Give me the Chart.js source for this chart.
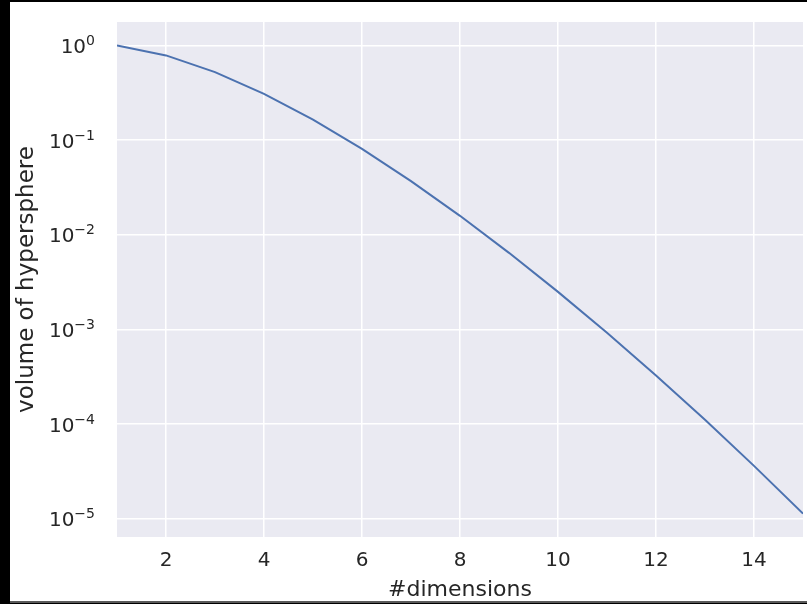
<!DOCTYPE html>
<html>
<head>
<meta charset="utf-8">
<script src="https://cdn.jsdelivr.net/npm/chart.js@4"></script>
<style>
  html, body { margin: 0; padding: 0; background: #000; width: 807px; height: 604px; overflow: hidden; }
  #wrap { position: absolute; left: 10px; top: 2px; width: 797px; height: 599px; background: #fff; border-bottom: 2px solid #5a5a5a; }
</style>
</head>
<body>
<div id="wrap"><canvas id="hyper"></canvas></div>
<script>
// dimensions and volume of the hypersphere inscribed in the unit cube
const dims = [1, 2, 3, 4, 5, 6, 7, 8, 9, 10, 11, 12, 13, 14, 15];
const volumes = [1.0, 0.7854, 0.5236, 0.3084, 0.1645, 0.0807, 0.0369, 0.01585, 0.00644, 0.00249,
  0.000921, 0.000326, 0.000111, 0.0000361, 0.0000113];
const xTicks = [2, 4, 6, 8, 10, 12, 14];
const yTicks = [1e-5, 1e-4, 1e-3, 1e-2, 1e-1, 1];

const textColor = '#262626';
const fontName = 'DejaVu Sans';

const bgPlugin = {
  id: 'plotBg',
  beforeDraw(chart) {
    const a = chart.chartArea;
    const ctx = chart.ctx;
    ctx.save();
    ctx.fillStyle = '#EAEAF2';
    ctx.fillRect(a.left, a.top, a.right - a.left, a.bottom - a.top);
    ctx.restore();
  }
};

// y tick labels as 10 with a raised exponent, placed at the scale's pixel for each tick
const powLabels = {
  id: 'powLabels',
  afterDraw(chart) {
    const scale = chart.scales.y;
    const ctx = chart.ctx;
    const right = chart.chartArea.left - 22;
    ctx.save();
    ctx.fillStyle = textColor;
    ctx.textBaseline = 'alphabetic';
    scale.ticks.forEach(t => {
      const y = scale.getPixelForValue(t.value);
      const e = String(Math.round(Math.log10(t.value))).replace('-', '\u2212');
      ctx.font = '14px "' + fontName + '"';
      const ew = ctx.measureText(e).width;
      ctx.textAlign = 'left';
      ctx.fillText(e, right - ew, y - 0.5);
      ctx.font = '20px "' + fontName + '"';
      ctx.textAlign = 'right';
      ctx.fillText('10', right - ew, y + 7.5);
    });
    ctx.restore();
  }
};

const points = dims.map((d, i) => ({ x: d, y: volumes[i] }));

new Chart(document.getElementById('hyper'), {
  type: 'line',
  data: {
    datasets: [{
      data: points,
      borderColor: '#4C72B0',
      borderWidth: 2,
      pointRadius: 0,
      tension: 0,
      fill: false
    }]
  },
  options: {
    responsive: true,
    maintainAspectRatio: false,
    animation: false,
    layout: { padding: { top: 20, right: 4, left: 0, bottom: 0 } },
    plugins: { legend: { display: false }, tooltip: { enabled: false } },
    scales: {
      x: {
        type: 'linear',
        min: 1,
        max: 15,
        afterBuildTicks: axis => { axis.ticks = xTicks.map(v => ({ value: v })); },
        afterFit: axis => { axis.height = 64; },
        grid: { color: '#ffffff', lineWidth: 1.5, drawTicks: false },
        border: { display: false },
        ticks: { color: textColor, font: { family: fontName, size: 20 }, padding: 12, maxRotation: 0 },
        title: { display: true, text: '#dimensions', color: textColor, font: { family: fontName, size: 22, lineHeight: 1 }, padding: { top: 0, bottom: 0 } }
      },
      y: {
        type: 'logarithmic',
        min: 6.4e-6,
        max: 1.77,
        afterBuildTicks: axis => { axis.ticks = yTicks.map(v => ({ value: v })); },
        afterFit: axis => { axis.width = 107; },
        grid: { color: '#ffffff', lineWidth: 1.5, drawTicks: false },
        border: { display: false },
        ticks: { display: false, autoSkip: false },
        title: { display: true, text: 'volume of hypersphere', color: textColor, font: { family: fontName, size: 23 }, padding: { top: 3, bottom: 0 } }
      }
    }
  },
  plugins: [bgPlugin, powLabels]
});
</script>
</body>
</html>
